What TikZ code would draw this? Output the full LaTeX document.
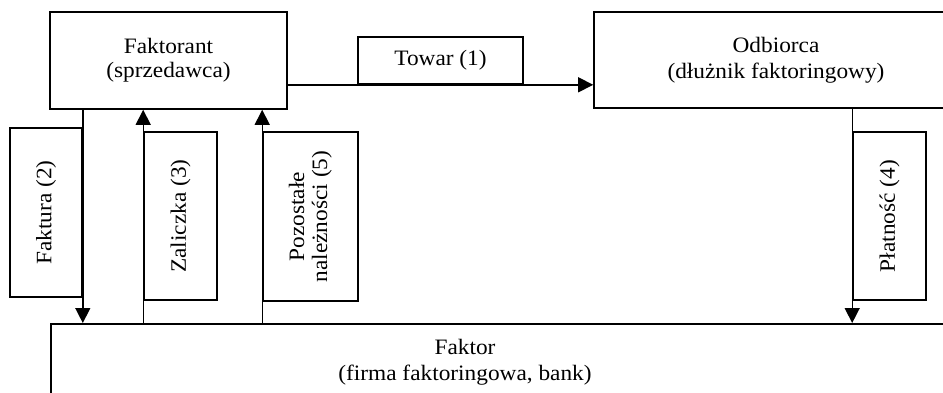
\documentclass[tikz,border=0pt]{standalone}
\usepackage{fontspec}
\setmainfont[FakeStretch=1.06]{Liberation Serif}
\usetikzlibrary{arrows.meta}

\tikzset{
    box/.style={draw, line width=1.6pt, inner sep=0pt, align=center, font=\fontsize{22}{26}\selectfont},
    arr/.style={line width=1.4pt, -{Triangle[length=15pt,width=15pt]}},
    txt/.style={align=center, inner sep=0pt, font=\fontsize{22}{26}\selectfont}
}

\begin{document}
\begin{tikzpicture}[x=1pt, y=-1pt]
            \useasboundingbox (0,0) rectangle (943,392);
            \clip (0,0) rectangle (943,392);

            % Gorne prostokaty
            \node[box, minimum width=237pt, minimum height=97pt] (faktorant) at (168.5,60.5) {\raisebox{-5pt}{\begin{tabular}{c}Faktorant\\[-2pt](sprzedawca)\end{tabular}}};
            \node[box, minimum width=364pt, minimum height=96pt] (odbiorca) at (776,60) {Odbiorca\\(dłużnik faktoringowy)};
            \node[box, minimum width=165pt, minimum height=47pt] (towar) at (440.5,60.5) {Towar (1)};

            % Faktor
            \node[box, minimum width=910pt, minimum height=120pt, anchor=north west] (faktor) at (50,323) {};
            \node[txt] (faktortxt) at (465,362) {Faktor\\(firma faktoringowa, bank)};

            % Pionowe etykiety
            \node[box, minimum width=72pt, minimum height=169pt] (faktura) at (46,212.5) {\rotatebox{90}{Faktura (2)}};
            \node[box, minimum width=73pt, minimum height=168pt] (zaliczka) at (180.5,216) {\rotatebox{90}{Zaliczka (3)}};
            \node[box, minimum width=95pt, minimum height=169pt] (pozostale) at (310.5,216.5) {\rotatebox{90}{\begin{tabular}{@{}c@{}}Pozostałe\\[-3pt]należności (5)\end{tabular}}};
            \node[box, minimum width=73pt, minimum height=168pt] (platnosc) at (889.5,216) {\rotatebox{90}{Płatność (4)}};

            % Strzalki
            \draw[arr] (faktorant.east |- towar.south) -- (odbiorca.west |- towar.south);
            \draw[arr] (faktura.east |- faktorant.south) -- (faktura.east |- faktor.north);
            \draw[arr] (zaliczka.west |- faktor.north) -- (zaliczka.west |- faktorant.south);
            \draw[arr] (pozostale.west |- faktor.north) -- (pozostale.west |- faktorant.south);
            \draw[arr] (platnosc.west |- odbiorca.south) -- (platnosc.west |- faktor.north);
\end{tikzpicture}
\end{document}
